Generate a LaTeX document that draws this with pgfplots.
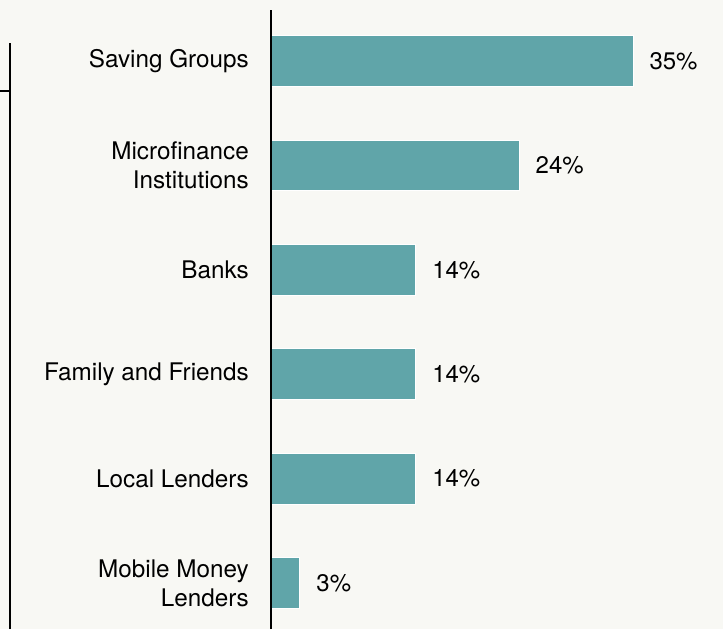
\documentclass[border=0pt]{standalone}
\usepackage{pgfplots}
\pgfplotsset{compat=1.18}
\usepackage{fontspec}
\setmainfont{TeX Gyre Heros}
\definecolor{bg}{HTML}{F8F8F4}
\definecolor{teal}{HTML}{60A5A9}
\begin{document}
\begin{tikzpicture}
\fill[bg] (0,0) rectangle (542.25pt,471.75pt);
\draw[line width=1.6pt] (7.5pt,0) -- (7.5pt,439.5pt);
\draw[line width=1.6pt] (0,403.5pt) -- (8.3pt,403.5pt);
\begin{axis}[
  at={(203.25pt,0pt)}, anchor=south west,
  scale only axis, width=339pt, height=464.25pt,
  xmin=0, xmax=43.7, ymin=-0.44, ymax=5.49,
  axis line style={draw=none},
  xbar, bar width=38pt,
  xtick=\empty,
  ytick={0,1,2,3,4,5},
  yticklabels={{Mobile Money\\Lenders},{Local Lenders},{Family and Friends},{Banks},{Microfinance\\Institutions},{Saving Groups}},
  major tick length=0pt,
  yticklabel style={align=right, inner sep=0pt, xshift=-16.5pt, font=\fontsize{18.2}{21.75}\selectfont},
  point meta=explicit symbolic,
  nodes near coords,
  nodes near coords style={anchor=west, inner sep=0pt, xshift=12pt, font=\fontsize{18}{21.75}\selectfont, text=black},
  /pgf/number format/assume math mode=true,
  clip=false,
]
\addplot[fill=teal, draw=white, line width=0.75pt] coordinates {
  (35,5) [35\%]
  (24,4) [24\%]
  (14,3) [14\%]
  (14,2) [14\%]
  (14,1) [14\%]
  (2.8,0) [3\%]
};
\draw[line width=1.6pt] (rel axis cs:0,0) -- (rel axis cs:0,1);
\end{axis}
\pgfresetboundingbox
\path (0,0) rectangle (542.25pt,471.75pt);
\end{tikzpicture}
\end{document}
